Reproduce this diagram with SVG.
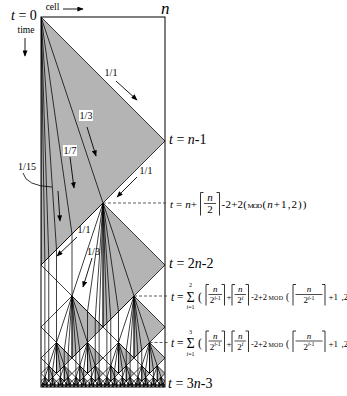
<svg xmlns="http://www.w3.org/2000/svg" xmlns:xlink="http://www.w3.org/1999/xlink" width="347" height="396" viewBox="0 0 347 396">
<style>
text{font-family:"Liberation Serif","Times New Roman",serif;fill:#000}
.it{font-style:italic}
.arr{stroke:#000;stroke-width:0.9;fill:none;marker-end:url(#ah)}
.dash{stroke:#333;stroke-width:0.8;stroke-dasharray:3 2;fill:none}
.br{stroke:#000;stroke-width:0.8;fill:none}
.bar{stroke:#000;stroke-width:0.7}
.lbl{font-size:10px;text-anchor:middle}
.nss{vector-effect:non-scaling-stroke}
</style>
<defs>
<marker id="ah" viewBox="0 0 10 8" refX="9" refY="4" markerWidth="6.5" markerHeight="5" orient="auto" markerUnits="userSpaceOnUse">
<path d="M0,0 L10,4 L0,8 z" fill="#000"/>
</marker>
<clipPath id="box"><rect x="41" y="17" width="124" height="370.5"/></clipPath>
<polygon id="tG" class="nss" points="0,0 1,1 0,2"/>
<polygon id="tW" class="nss" fill="none" points="0,0 -1,1 0,2"/>
<path id="sG1" class="nss" fill="none" d="M0,0L0.5,1.5"/>
<path id="sG2" class="nss" fill="none" d="M0,0L0.5,1.5M0,0L0.25,1.75V2.25"/>
<path id="sG3" class="nss" fill="none" d="M0,0L0.5,1.5M0,0L0.25,1.75V2.25M0,0L0.125,1.875V2.625"/>
<path id="sG4" class="nss" fill="none" d="M0,0L0.5,1.5M0,0L0.25,1.75V2.25M0,0L0.125,1.875V2.625M0,0L0.0625,1.9375V2.8125"/>
<path id="sG5" class="nss" fill="none" d="M0,0L0.5,1.5M0,0L0.25,1.75V2.25M0,0L0.125,1.875V2.625M0,0L0.0625,1.9375V2.8125M0,0L0.03125,1.96875V2.90625"/>
<path id="sW1" class="nss" fill="none" d="M0,0L-0.5,1.5"/>
<path id="sW2" class="nss" fill="none" d="M0,0L-0.5,1.5M0,0L-0.25,1.75V2.25"/>
<path id="sW3" class="nss" fill="none" d="M0,0L-0.5,1.5M0,0L-0.25,1.75V2.25M0,0L-0.125,1.875V2.625"/>
<path id="sW4" class="nss" fill="none" d="M0,0L-0.5,1.5M0,0L-0.25,1.75V2.25M0,0L-0.125,1.875V2.625M0,0L-0.0625,1.9375V2.8125"/>
<g id="G0"><use xlink:href="#tG"/><use xlink:href="#sG1"/></g>
<g id="W0"><use xlink:href="#tW"/><use xlink:href="#sW1"/></g>
<g id="G1"><use xlink:href="#tG"/><use xlink:href="#sG1"/><use xlink:href="#W0" transform="translate(0.5,1.5) scale(0.5)"/><use xlink:href="#G0" transform="translate(0.5,1.5) scale(0.5)"/></g>
<g id="W1"><use xlink:href="#tW"/><use xlink:href="#sW1"/><use xlink:href="#G0" transform="translate(-0.5,1.5) scale(0.5)"/><use xlink:href="#W0" transform="translate(-0.5,1.5) scale(0.5)"/></g>
<g id="G2"><use xlink:href="#tG"/><use xlink:href="#sG1"/><use xlink:href="#W1" transform="translate(0.5,1.5) scale(0.5)"/><use xlink:href="#G1" transform="translate(0.5,1.5) scale(0.5)"/></g>
<g id="W2"><use xlink:href="#tW"/><use xlink:href="#sW1"/><use xlink:href="#G1" transform="translate(-0.5,1.5) scale(0.5)"/><use xlink:href="#W1" transform="translate(-0.5,1.5) scale(0.5)"/></g>
<g id="G3"><use xlink:href="#tG"/><use xlink:href="#sG2"/><use xlink:href="#W2" transform="translate(0.5,1.5) scale(0.5)"/><use xlink:href="#G2" transform="translate(0.5,1.5) scale(0.5)"/></g>
<g id="W3"><use xlink:href="#tW"/><use xlink:href="#sW2"/><use xlink:href="#G2" transform="translate(-0.5,1.5) scale(0.5)"/><use xlink:href="#W2" transform="translate(-0.5,1.5) scale(0.5)"/></g>
<g id="G4"><use xlink:href="#tG"/><use xlink:href="#sG3"/><use xlink:href="#W3" transform="translate(0.5,1.5) scale(0.5)"/><use xlink:href="#G3" transform="translate(0.5,1.5) scale(0.5)"/></g>
<g id="W4"><use xlink:href="#tW"/><use xlink:href="#sW3"/><use xlink:href="#G3" transform="translate(-0.5,1.5) scale(0.5)"/><use xlink:href="#W3" transform="translate(-0.5,1.5) scale(0.5)"/></g>
<g id="G5"><use xlink:href="#tG"/><use xlink:href="#sG4"/><use xlink:href="#W4" transform="translate(0.5,1.5) scale(0.5)"/><use xlink:href="#G4" transform="translate(0.5,1.5) scale(0.5)"/></g>
<g id="W5"><use xlink:href="#tW"/><use xlink:href="#sW4"/><use xlink:href="#G4" transform="translate(-0.5,1.5) scale(0.5)"/><use xlink:href="#W4" transform="translate(-0.5,1.5) scale(0.5)"/></g>
<g id="G6"><use xlink:href="#tG"/><use xlink:href="#sG5"/><use xlink:href="#W5" transform="translate(0.5,1.5) scale(0.5)"/><use xlink:href="#G5" transform="translate(0.5,1.5) scale(0.5)"/></g>
</defs>

<g id="spacetime" clip-path="url(#box)">
<use xlink:href="#G6" transform="translate(41,17) scale(124)" fill="#b4b4b4" stroke="none"/>
<use xlink:href="#G6" transform="translate(41,17) scale(124)" fill="none" stroke="#000" stroke-width="0.75"/>
</g>
<rect id="frame" x="41" y="17" width="124" height="370" fill="none" stroke="#000" stroke-width="1"/>

<g id="connectors">
<line class="arr" x1="25" y1="38" x2="25" y2="56"/>
<line class="arr" x1="63" y1="9" x2="83" y2="9"/>
<line class="arr" x1="116" y1="81" x2="137" y2="100"/>
<line class="arr" x1="87" y1="127" x2="96" y2="156"/>
<line class="arr" x1="70" y1="157" x2="74" y2="188"/>
<line class="arr" x1="58" y1="191" x2="60" y2="221"/>
<line class="arr" x1="137" y1="177" x2="117" y2="197"/>
<line class="arr" x1="77" y1="237" x2="57" y2="256"/>
<line class="arr" x1="92" y1="258" x2="83" y2="287"/>
<path d="M23,173 Q26,186 52,187" fill="none" stroke="#000" stroke-width="0.8"/>
<line class="dash" x1="103" y1="203" x2="168" y2="203"/>
<line class="dash" x1="134" y1="296" x2="168" y2="296"/>
<line class="dash" x1="149.5" y1="342.5" x2="168" y2="342.5"/>
</g>

<g id="label-t0"><text x="11" y="20" font-size="14"><tspan class="it">t</tspan> = 0</text></g>
<g id="label-time"><text x="26" y="33" font-size="9.5" text-anchor="middle">time</text></g>
<g id="label-cell"><text x="52.5" y="10" font-size="9.5" text-anchor="middle">cell</text></g>
<g id="label-n"><text x="161" y="14" font-size="17" class="it">n</text></g>

<g id="speed-labels">
<text class="lbl" x="111" y="76">1/1</text>
<rect x="79" y="110" width="14" height="11" fill="#fff"/>
<text class="lbl" x="86" y="119">1/3</text>
<rect x="63" y="145" width="14" height="11" fill="#fff"/>
<text class="lbl" x="70" y="154">1/7</text>
<text class="lbl" x="27" y="170">1/15</text>
<text class="lbl" x="146" y="174">1/1</text>
<text class="lbl" x="84" y="233">1/1</text>
<text class="lbl" x="93.5" y="255">1/3</text>
</g>

<g id="label-n1"><text x="169" y="143.5" font-size="14"><tspan class="it">t</tspan> = <tspan class="it">n</tspan>-1</text></g>
<g id="label-2n2"><text x="169" y="268" font-size="14"><tspan class="it">t</tspan> = 2<tspan class="it">n</tspan>-2</text></g>
<g id="label-3n3"><text x="168" y="388" font-size="14"><tspan class="it">t</tspan> = 3<tspan class="it">n</tspan>-3</text></g>

<g id="formula-1">
<text x="170" y="207.5" font-size="11" textLength="27" lengthAdjust="spacing"><tspan class="it">t</tspan> = <tspan class="it">n</tspan>+</text>
<polyline class="br" points="203.5,192.5 200.5,192.5 200.5,215.5"/>
<polyline class="br" points="216.5,192.5 219.5,192.5 219.5,215.5"/>
<text x="210" y="200.5" font-size="11" class="it" text-anchor="middle">n</text>
<line class="bar" x1="204" y1="203.5" x2="216" y2="203.5"/>
<text x="210" y="213" font-size="11" text-anchor="middle">2</text>
<text x="221.5" y="207.5" font-size="11" textLength="25.5" lengthAdjust="spacing">-2+2(</text>
<text x="247.5" y="207.5" font-size="7" textLength="14.5" lengthAdjust="spacing">MOD</text>
<text x="262.5" y="207.5" font-size="11" textLength="44" lengthAdjust="spacing">(<tspan class="it">n</tspan>+1,2))</text>
</g>

<g id="formula-2">
<text x="171" y="300.5" font-size="11.5"><tspan class="it">t</tspan> =</text>
<text x="190.5" y="301.5" font-size="14" text-anchor="middle">Σ</text>
<text x="190.5" y="287" font-size="6" text-anchor="middle">2</text>
<text x="190.5" y="309" font-size="6" text-anchor="middle"><tspan class="it">i</tspan>=1</text>
<text x="198" y="300.5" font-size="12">(</text>
<polyline class="br" points="209,284.5 206,284.5 206,305.5"/>
<polyline class="br" points="221.5,284.5 224.5,284.5 224.5,305.5"/>
<text x="215.25" y="292" font-size="9" class="it" text-anchor="middle">n</text>
<line class="bar" x1="208.5" y1="294.5" x2="222" y2="294.5"/>
<text x="215.25" y="303" font-size="9" text-anchor="middle">2<tspan font-size="6" dy="-3.5"><tspan class="it">i</tspan>-1</tspan></text>
<text x="226.5" y="300" font-size="9">+</text>
<polyline class="br" points="235,284.5 232,284.5 232,305.5"/>
<polyline class="br" points="245.5,284.5 248.5,284.5 248.5,305.5"/>
<text x="240.25" y="292" font-size="9" class="it" text-anchor="middle">n</text>
<line class="bar" x1="234.5" y1="294.5" x2="246" y2="294.5"/>
<text x="240.25" y="303" font-size="9" text-anchor="middle">2<tspan font-size="6" dy="-3.5" class="it">i</tspan></text>
<text x="251" y="300" font-size="8.5" textLength="16" lengthAdjust="spacing">-2+2</text>
<text x="268.5" y="300" font-size="6" textLength="14.5" lengthAdjust="spacing">MOD</text>
<text x="286" y="300" font-size="9.5">(</text>
<polyline class="br" points="296,284.5 293,284.5 293,305.5"/>
<polyline class="br" points="322,284.5 325,284.5 325,305.5"/>
<text x="309" y="292" font-size="9" class="it" text-anchor="middle">n</text>
<line class="bar" x1="295.5" y1="294.5" x2="322.5" y2="294.5"/>
<text x="309" y="303" font-size="9" text-anchor="middle">2<tspan font-size="6" dy="-3.5"><tspan class="it">i</tspan>-1</tspan></text>
<text x="328.5" y="300" font-size="9">+1</text>
<text x="341.5" y="300" font-size="9">,2</text>
</g>

<g id="formula-3">
<text x="171" y="347" font-size="11.5"><tspan class="it">t</tspan> =</text>
<text x="190.5" y="348" font-size="14" text-anchor="middle">Σ</text>
<text x="190.5" y="333.5" font-size="6" text-anchor="middle">3</text>
<text x="190.5" y="355.5" font-size="6" text-anchor="middle"><tspan class="it">i</tspan>=1</text>
<text x="198" y="347" font-size="12">(</text>
<polyline class="br" points="209,331 206,331 206,352"/>
<polyline class="br" points="221.5,331 224.5,331 224.5,352"/>
<text x="215.25" y="338.5" font-size="9" class="it" text-anchor="middle">n</text>
<line class="bar" x1="208.5" y1="341" x2="222" y2="341"/>
<text x="215.25" y="349.5" font-size="9" text-anchor="middle">2<tspan font-size="6" dy="-3.5"><tspan class="it">i</tspan>-1</tspan></text>
<text x="226.5" y="346.5" font-size="9">+</text>
<polyline class="br" points="235,331 232,331 232,352"/>
<polyline class="br" points="245.5,331 248.5,331 248.5,352"/>
<text x="240.25" y="338.5" font-size="9" class="it" text-anchor="middle">n</text>
<line class="bar" x1="234.5" y1="341" x2="246" y2="341"/>
<text x="240.25" y="349.5" font-size="9" text-anchor="middle">2<tspan font-size="6" dy="-3.5" class="it">i</tspan></text>
<text x="251" y="346.5" font-size="8.5" textLength="16" lengthAdjust="spacing">-2+2</text>
<text x="268.5" y="346.5" font-size="6" textLength="14.5" lengthAdjust="spacing">MOD</text>
<text x="286" y="346.5" font-size="9.5">(</text>
<polyline class="br" points="296,331 293,331 293,352"/>
<polyline class="br" points="322,331 325,331 325,352"/>
<text x="309" y="338.5" font-size="9" class="it" text-anchor="middle">n</text>
<line class="bar" x1="295.5" y1="341" x2="322.5" y2="341"/>
<text x="309" y="349.5" font-size="9" text-anchor="middle">2<tspan font-size="6" dy="-3.5"><tspan class="it">i</tspan>-1</tspan></text>
<text x="328.5" y="346.5" font-size="9">+1</text>
<text x="341.5" y="346.5" font-size="9">,2</text>
</g>
</svg>
